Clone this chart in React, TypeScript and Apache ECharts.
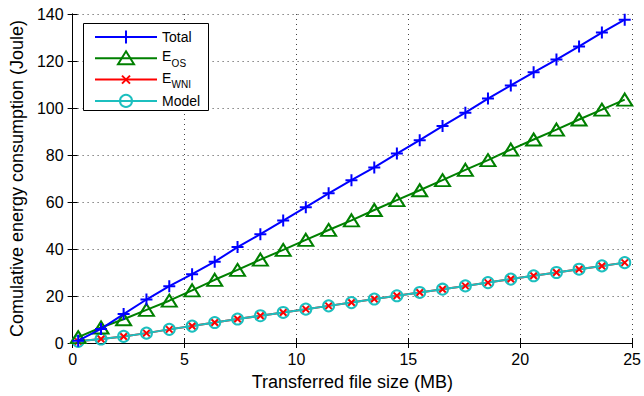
import React, { useEffect, useRef } from "react";
import * as echarts from "echarts";

const fileSize = [0.25, 1.27, 2.28, 3.3, 4.32, 5.34, 6.35, 7.37, 8.39, 9.41, 10.42, 11.44, 12.46, 13.48, 14.49, 15.51, 16.53, 17.55, 18.56, 19.58, 20.6, 21.62, 22.63, 23.65, 24.67];
const total = [1.0, 6.0, 12.3, 18.5, 24.2, 29.3, 34.6, 40.8, 46.3, 52.1, 57.8, 63.7, 69.3, 74.7, 80.6, 86.3, 92.3, 98.0, 104.0, 109.6, 115.2, 120.6, 126.2, 132.1, 137.6];
const eOS = [2.5, 6.6, 10.1, 14.1, 18.0, 22.4, 26.9, 31.1, 35.5, 39.6, 43.9, 48.1, 52.2, 56.6, 60.8, 65.0, 69.3, 73.7, 77.8, 82.3, 86.6, 90.8, 95.1, 99.3, 103.6];
const eWNI = [0.7, 1.7, 2.8, 4.2, 5.8, 7.2, 8.7, 10.2, 11.6, 13.0, 14.4, 15.8, 17.2, 18.7, 20.1, 21.5, 22.9, 24.3, 25.7, 27.2, 28.6, 30.0, 31.4, 32.8, 34.2];
const model = [0.7, 1.7, 2.8, 4.2, 5.8, 7.2, 8.7, 10.2, 11.6, 13.0, 14.4, 15.8, 17.2, 18.7, 20.1, 21.5, 22.9, 24.3, 25.7, 27.2, 28.6, 30.0, 31.4, 32.8, 34.2];

const seriesNames = ["Total", "E_OS", "E_WNI", "Model"];
const legendMain = ["Total", "E", "E", "Model"];
const legendSub = ["", "OS", "WNI", ""];
const xTitle = "Transferred file size (MB)";
const yTitle = "Comulative energy consumption (Joule)";

const BLUE = "#0000ff";
const GREEN = "#008000";
const RED = "#ff0000";
const CYAN = "#1cbfbf";
const colors = [BLUE, GREEN, RED, CYAN];

const FONT = "'Liberation Sans', Arial, Helvetica, sans-serif";
const pair = (ys: number[]) => fileSize.map((x, i) => [x, ys[i]]);

const PLUS = "path://M5,0 L5,10 M0,5 L10,5";
const CROSS = "path://M0,0 L10,10 M10,0 L0,10";

function legendGraphics() {
  const items: any[] = [];
  const bx = 83.5, by = 23.5, bw = 125, bh = 87;
  items.push({ type: "rect", shape: { x: bx, y: by, width: bw, height: bh }, style: { fill: "#fff", stroke: "#000", lineWidth: 1 }, z: 100 });
  const x0 = 95, x1 = 157, mx = 126, tx = 162;
  seriesNames.forEach((_, i) => {
    const y = 37 + i * 21.3;
    const c = colors[i];
    items.push({ type: "line", shape: { x1: x0, y1: y, x2: x1, y2: y }, style: { stroke: c, lineWidth: 2 }, z: 101 });
    if (i === 0) {
      items.push({ type: "line", shape: { x1: mx - 6.5, y1: y, x2: mx + 6.5, y2: y }, style: { stroke: c, lineWidth: 2 }, z: 102 });
      items.push({ type: "line", shape: { x1: mx, y1: y - 6.5, x2: mx, y2: y + 6.5 }, style: { stroke: c, lineWidth: 2 }, z: 102 });
    } else if (i === 1) {
      items.push({ type: "polygon", shape: { points: [[mx, y - 7], [mx + 8, y + 6], [mx - 8, y + 6]] }, style: { fill: "none", stroke: c, lineWidth: 2 }, z: 102 });
    } else if (i === 2) {
      items.push({ type: "line", shape: { x1: mx - 4, y1: y - 4, x2: mx + 4, y2: y + 4 }, style: { stroke: c, lineWidth: 2 }, z: 102 });
      items.push({ type: "line", shape: { x1: mx + 4, y1: y - 4, x2: mx - 4, y2: y + 4 }, style: { stroke: c, lineWidth: 2 }, z: 102 });
    } else {
      items.push({ type: "circle", shape: { cx: mx, cy: y, r: 6 }, style: { fill: "none", stroke: c, lineWidth: 2 }, z: 102 });
    }
    if (legendSub[i]) {
      items.push({ type: "text", x: tx, y: y - 2, style: { text: legendMain[i], font: "14px " + FONT, fill: "#000", verticalAlign: "middle", align: "left" }, z: 102 });
      items.push({ type: "text", x: tx + 9.6, y: y + 5, style: { text: legendSub[i], font: "10px " + FONT, fill: "#000", verticalAlign: "middle", align: "left" }, z: 102 });
    } else {
      items.push({ type: "text", x: tx, y: y, style: { text: legendMain[i], font: "14px " + FONT, fill: "#000", verticalAlign: "middle", align: "left" }, z: 102 });
    }
  });
  return items;
}

export default function App() {
  const ref = useRef<HTMLDivElement>(null);
  useEffect(() => {
    if (!ref.current) return;
    const chart = echarts.init(ref.current, undefined, { renderer: "svg" });
    const axisLine = { show: true, lineStyle: { color: "#000", width: 1 } };
    const tick = { show: true, inside: true, length: 5, lineStyle: { color: "#000" } };
    const split = { show: true, lineStyle: { color: "#444", width: 1, type: [1, 4] as any } };
    chart.setOption({
      animation: false,
      backgroundColor: "#fff",
      textStyle: { fontFamily: FONT },
      grid: { left: 72, right: 8, top: 14, bottom: 53 },
      graphic: legendGraphics(),
      xAxis: [
        {
          type: "value",
          min: 0,
          max: 25,
          interval: 5,
          name: xTitle,
          nameLocation: "middle",
          nameGap: 30,
          nameTextStyle: { fontSize: 18, color: "#000", fontFamily: FONT },
          axisLine,
          axisTick: tick,
          axisLabel: { fontSize: 16, color: "#000", margin: 8, fontFamily: FONT },
          splitLine: split,
        },
        {
          type: "value",
          position: "top",
          min: 0,
          max: 25,
          interval: 5,
          axisLine,
          axisTick: tick,
          axisLabel: { show: false },
          splitLine: { show: false },
        },
      ],
      yAxis: [
        {
          type: "value",
          min: 0,
          max: 140,
          interval: 20,
          name: yTitle,
          nameLocation: "middle",
          nameGap: 44,
          nameTextStyle: { fontSize: 18, color: "#000", fontFamily: FONT },
          axisLine,
          axisTick: tick,
          axisLabel: { fontSize: 16, color: "#000", margin: 9, fontFamily: FONT },
          splitLine: split,
        },
        {
          type: "value",
          position: "right",
          min: 0,
          max: 140,
          interval: 20,
          axisLine,
          axisTick: tick,
          axisLabel: { show: false },
          splitLine: { show: false },
        },
      ],
      series: [
        {
          name: seriesNames[0],
          type: "line",
          data: pair(total),
          symbol: PLUS,
          symbolSize: 12,
          lineStyle: { color: BLUE, width: 2 },
          itemStyle: { color: BLUE, borderColor: BLUE, borderWidth: 2 },
          z: 4,
        },
        {
          name: seriesNames[1],
          type: "line",
          data: pair(eOS),
          symbol: "triangle",
          symbolSize: [15, 12],
          lineStyle: { color: GREEN, width: 2 },
          itemStyle: { color: "rgba(0,0,0,0)", borderColor: GREEN, borderWidth: 2 },
          z: 3,
        },
        {
          name: seriesNames[2],
          type: "line",
          data: pair(eWNI),
          symbol: CROSS,
          symbolSize: 7,
          lineStyle: { color: RED, width: 2 },
          itemStyle: { color: RED, borderColor: RED, borderWidth: 2 },
          z: 2,
        },
        {
          name: seriesNames[3],
          type: "line",
          data: pair(model),
          symbol: "circle",
          symbolSize: 11,
          lineStyle: { color: CYAN, width: 2 },
          itemStyle: { color: "rgba(0,0,0,0)", borderColor: CYAN, borderWidth: 2 },
          z: 2,
        },
      ],
    });
    return () => chart.dispose();
  }, []);
  return <div ref={ref} style={{ width: 644, height: 396, position: "absolute", left: 0, top: 0 }} />;
}
